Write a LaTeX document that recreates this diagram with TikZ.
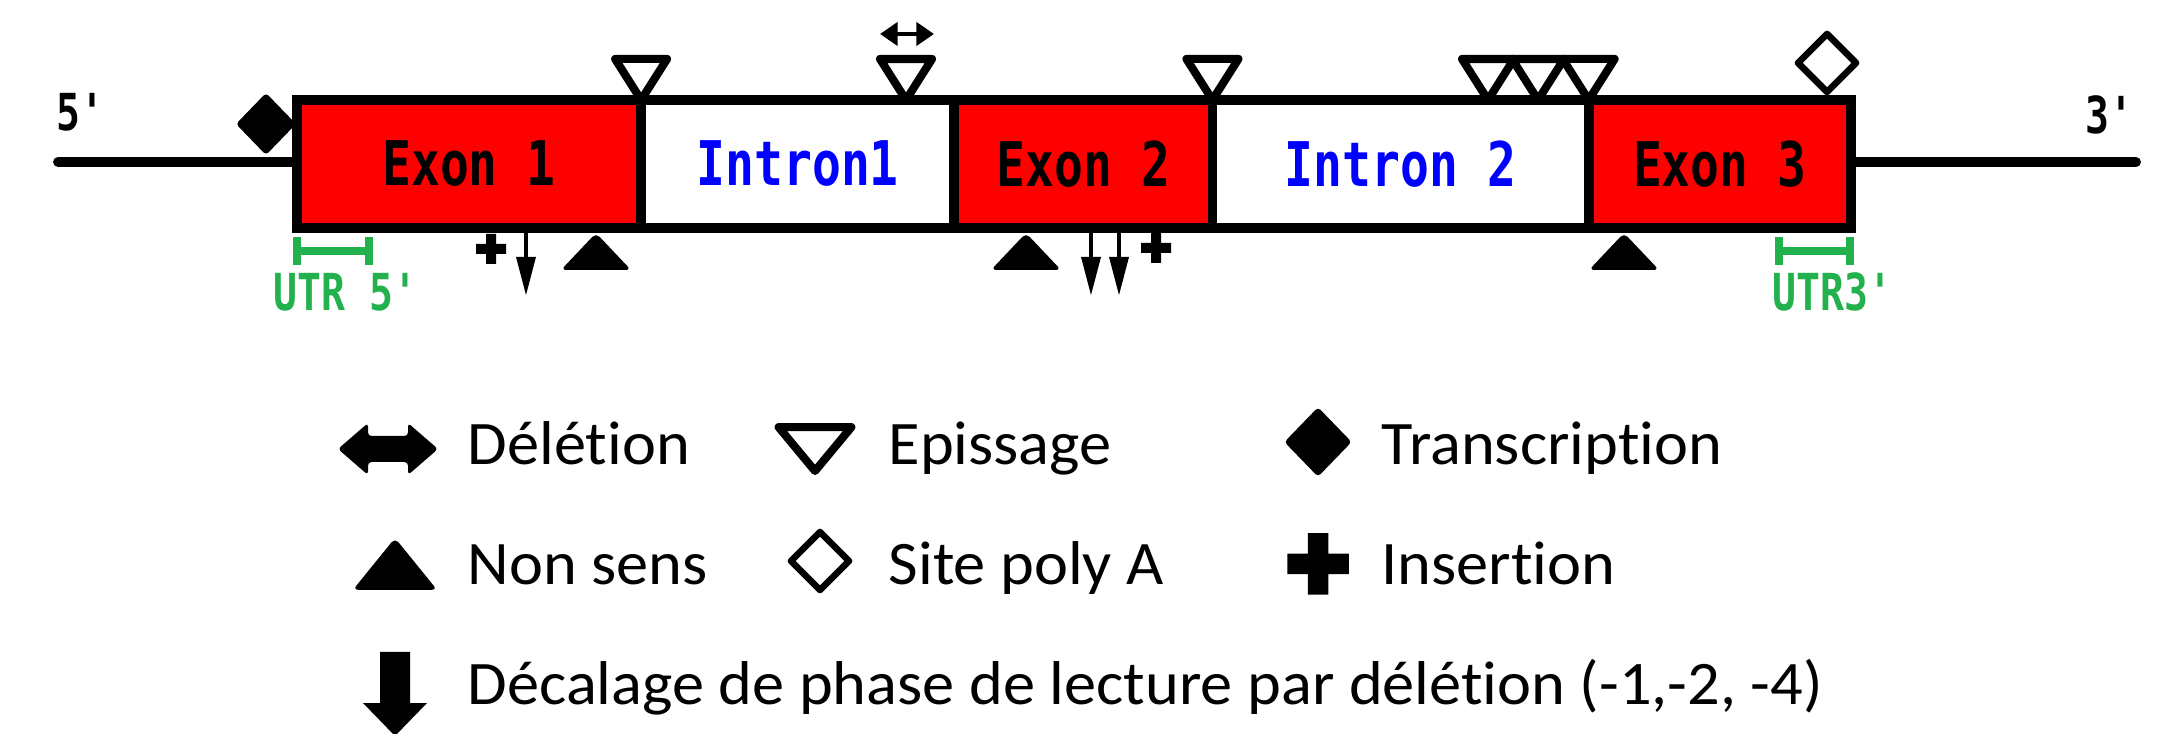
\documentclass[tikz,border=0pt]{standalone}
\usepackage{fontspec}
\usetikzlibrary{arrows.meta,positioning}
\newfontfamily\genefont[FakeStretch=0.78]{DejaVu Sans Mono}
\newfontfamily\legfont[Ligatures=NoCommon,FakeStretch=1.04]{Carlito}
\definecolor{exred}{RGB}{255,0,0}
\definecolor{intblue}{RGB}{0,0,255}
\definecolor{utrgreen}{RGB}{34,177,76}

\begin{document}
\begin{tikzpicture}[
  x=0.01cm,
  y=-0.01cm,
  exon/.style={
    draw,
    line width=2.8pt,
    fill=exred,
    outer sep=0pt,
    inner sep=0pt,
    minimum height=1.28cm,
    font=\genefont\bfseries\fontsize{17.5}{20}\selectfont
  },
  intron/.style={exon,fill=white,text=intblue},
  dna/.style={line width=2.8pt,line cap=round},
  endlbl/.style={font=\genefont\bfseries\fontsize{14.5}{16}\selectfont},
  utr/.style={line width=2.5pt,utrgreen},
  utrlbl/.style={font=\genefont\bfseries\fontsize{14.5}{16}\selectfont,text=utrgreen},
  legtext/.style={anchor=base west,inner sep=0pt,font=\legfont\fontsize{17.6}{20}\selectfont},
  splice/.pic={
    \draw[line width=2.3pt,line join=round,fill=white]
      (0,0) -- (-26,-41) -- (26,-41) -- cycle;
  },
  nonsense/.pic={\fill[rounded corners=1.5pt] (0,0) -- (35,37) -- (-35,37) -- cycle;},
  polya/.pic={
    \draw[line width=1.9pt,line join=round,fill=white]
      (0,-29) -- (29,0) -- (0,29) -- (-29,0) -- cycle;
  },
  tstart/.pic={\fill[rounded corners=1pt] (0,-31) -- (30,0) -- (0,31) -- (-30,0) -- cycle;},
  insert/.pic={\fill (-5,-15) rectangle (5,15) (-15,-5) rectangle (15,5);},
  fshift/.pic={
    \draw[line width=1.4pt] (0,0) -- (0,30);
    \fill (-10,24) -- (10,24) -- (0,62) -- cycle;
  }
]
\useasboundingbox (0,0) rectangle (2167,734);

% gene: exons and introns side by side
\node[exon,minimum width=3.44cm] (ex1) at (469,164) {Exon 1};
\node[intron,minimum width=3.13cm,right=0pt of ex1] (in1) {Intron1};
\node[exon,minimum width=2.58cm,right=0pt of in1] (ex2) {Exon 2};
\node[intron,minimum width=3.76cm,right=0pt of ex2] (in2) {Intron 2};
\node[exon,minimum width=2.62cm,right=0pt of in2] (ex3) {Exon 3};

\coordinate (five) at (58,162);
\coordinate (three) at (2136,162);
\draw[dna] (five) -- (five -| ex1.west);
\draw[dna] (ex3.east |- three) -- (three);

\node[endlbl] (p5) at (84,112) {5\textquotesingle};
\node[endlbl] (p3) at (2113,115) {3\textquotesingle};

% mutations above the gene
\pic at (266,124) {tstart};
\pic at (ex1.north east) {splice};
\pic at (906,100) {splice};
\coordinate (dla) at (880,34);
\coordinate (dlb) at (934,34);
\draw[line width=1.3pt,{Triangle[length=5pt,width=6.5pt]}-{Triangle[length=5pt,width=6.5pt]}]
  (dla) -- (dlb);
\pic at (ex2.north east) {splice};
\foreach \xa in {1488,1538}
  \pic at (\xa,100) {splice};
\pic at (in2.north east) {splice};
\pic at (1827,63) {polya};

% mutations below the gene
\pic at (491,249) {insert};
\pic at (526,233) {fshift};
\pic at (596,233) {nonsense};
\pic at (1026,233) {nonsense};
\foreach \xa in {1091,1119}
  \pic at (\xa,233) {fshift};
\pic at (1156,248) {insert};
\pic at (1624,233) {nonsense};

% UTR brackets
\draw[utr] (297,237) -- (297,265) (297,251) -- (369,251) (369,237) -- (369,265);
\node[utrlbl] (u5) at (349,292) {UTR 5\textquotesingle};
\draw[utr] (1779,237) -- (1779,265) (1779,251) -- (1850,251) (1850,237) -- (1850,265);
\node[utrlbl] (u3) at (1836,292) {UTR3\textquotesingle};

% legend
\fill[rounded corners=1pt]
  (338,449) -- (368,423) -- (368,436) -- (408,436) -- (408,423) -- (438,449)
  -- (408,475) -- (408,462) -- (368,462) -- (368,475) -- cycle;
\node[legtext] (ldel) at (467,465) {Délétion};
\pic[xscale=1.4,yscale=1.07] at (815,471) {splice};
\node[legtext] (lspl) at (888,465) {Epissage};
\pic[scale=1.12] at (1318,442) {tstart};
\node[legtext] (ltrs) at (1381,465) {Transcription};

\pic[xscale=1.2,yscale=1.4] at (395,538) {nonsense};
\node[legtext] (lnon) at (467,585) {Non sens};
\pic at (820,561) {polya};
\node[legtext] (lpol) at (888,585) {Site poly A};
\pic[scale=2.05] at (1318,564) {insert};
\node[legtext] (lins) at (1381,585) {Insertion};

\fill (380,652) -- (410,652) -- (410,703) -- (427,703) -- (395,736) -- (363,703) -- (380,703) -- cycle;
\node[legtext] (lfs) at (467,705) {Décalage de phase de lecture par délétion (-1,-2, -4)};
\end{tikzpicture}
\end{document}
